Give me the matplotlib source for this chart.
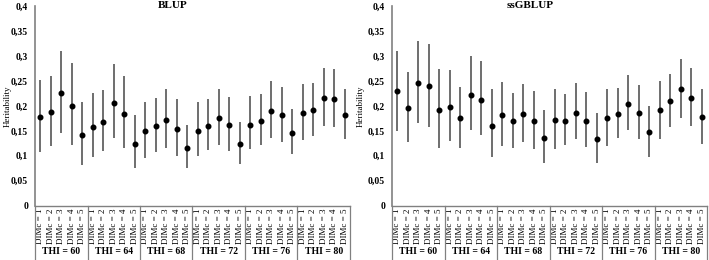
import matplotlib
matplotlib.use('Agg')
import matplotlib.pyplot as plt
import numpy as np

plt.rcParams['font.family'] = ['Liberation Serif', 'DejaVu Serif']

thi_groups = ['THI = 60', 'THI = 64', 'THI = 68', 'THI = 72', 'THI = 76', 'THI = 80']
dim_labels = ['DIMc = 1', 'DIMc = 2', 'DIMc = 3', 'DIMc = 4', 'DIMc = 5']

# BLUP: estimate, upper and lower limit
blup_h2 = [0.177, 0.187, 0.225, 0.199, 0.141,
           0.157, 0.167, 0.206, 0.183, 0.123,
           0.149, 0.159, 0.171, 0.153, 0.115,
           0.150, 0.159, 0.175, 0.161, 0.123,
           0.162, 0.170, 0.189, 0.181, 0.146,
           0.185, 0.191, 0.215, 0.213, 0.182]
blup_hi = [0.251, 0.259, 0.310, 0.285, 0.207,
           0.225, 0.232, 0.283, 0.259, 0.181,
           0.208, 0.215, 0.233, 0.213, 0.162,
           0.207, 0.213, 0.233, 0.217, 0.167,
           0.220, 0.223, 0.249, 0.238, 0.193,
           0.243, 0.245, 0.276, 0.273, 0.234]
blup_lo = [0.107, 0.119, 0.145, 0.122, 0.082,
           0.097, 0.110, 0.135, 0.115, 0.075,
           0.095, 0.108, 0.115, 0.100, 0.075,
           0.099, 0.111, 0.121, 0.109, 0.084,
           0.113, 0.121, 0.136, 0.128, 0.104,
           0.131, 0.139, 0.159, 0.157, 0.134]

# ssGBLUP
ss_h2 = [0.229, 0.196, 0.245, 0.239, 0.191,
         0.197, 0.175, 0.222, 0.212, 0.160,
         0.182, 0.169, 0.183, 0.169, 0.136,
         0.172, 0.170, 0.186, 0.170, 0.133,
         0.175, 0.184, 0.203, 0.185, 0.148,
         0.191, 0.209, 0.233, 0.216, 0.178]
ss_hi = [0.310, 0.268, 0.329, 0.324, 0.273,
         0.271, 0.238, 0.299, 0.289, 0.233,
         0.247, 0.225, 0.243, 0.230, 0.191,
         0.233, 0.223, 0.245, 0.227, 0.185,
         0.233, 0.236, 0.261, 0.242, 0.200,
         0.250, 0.263, 0.293, 0.275, 0.234]
ss_lo = [0.150, 0.128, 0.165, 0.157, 0.115,
         0.129, 0.115, 0.151, 0.141, 0.097,
         0.120, 0.116, 0.127, 0.113, 0.085,
         0.114, 0.121, 0.134, 0.118, 0.085,
         0.119, 0.135, 0.151, 0.133, 0.098,
         0.133, 0.157, 0.176, 0.159, 0.123]

W, H = 709, 260
fig = plt.figure(figsize=(W / 100, H / 100), dpi=100)

ax_bottom = (H - 205.7) / H
ax_height = (205.7 - 6) / H
ax_w = 315 / W


def panel(left, title, h2, hi, lo, ylab_x):
    ax = fig.add_axes([left / W, ax_bottom, ax_w, ax_height])
    x = np.arange(len(h2))
    h2 = np.array(h2)
    yerr = [h2 - np.array(lo), np.array(hi) - h2]
    ax.errorbar(x, h2, yerr=yerr, fmt='o', color='black', ms=3.3,
                ecolor='#555555', elinewidth=1.2, capsize=0)
    ax.set_xlim(-0.5, len(h2) - 0.5)
    ax.set_ylim(0, 0.4)
    yt = np.arange(0, 0.401, 0.05)
    ax.set_yticks(yt)
    ax.set_yticklabels([('%g' % round(v, 2)).replace('.', ',') for v in yt],
                       fontsize=7, fontweight='bold')
    ax.tick_params(axis='y', length=0, pad=5)
    ax.set_xticks(x)
    ax.set_xticklabels(dim_labels * len(thi_groups), rotation=90, fontsize=6.5)
    ax.tick_params(axis='x', length=0, pad=2)
    for s in ['top', 'right']:
        ax.spines[s].set_visible(False)
    ax.spines['left'].set_color('#808080')
    ax.spines['bottom'].set_color('#808080')
    ax.spines['left'].set_linewidth(1.2)
    ax.spines['bottom'].set_linewidth(1.0)
    ax.set_ylabel('Heritability', fontsize=6.5, va='center')
    ax.yaxis.set_label_coords(ylab_x, 0.5)

    trans = ax.get_xaxis_transform()
    yb = -(H - 205.7) / (205.7 - 6)
    for g in range(len(thi_groups) + 1):
        ax.plot([g * 5 - 0.5] * 2, [0, yb], transform=trans, color='#808080',
                lw=0.9, clip_on=False)
    for g, lab in enumerate(thi_groups):
        ax.text(g * 5 + 2, -(252 - 205.7) / (205.7 - 6), lab, transform=trans,
                ha='center', va='center', fontsize=7, fontweight='bold')
    ax.text(0.438, 1.0, title, transform=ax.transAxes, ha='center', va='center',
            fontsize=8, fontweight='bold')
    return ax


panel(35, 'BLUP', blup_h2, blup_hi, blup_lo, -0.088)
panel(392, 'ssGBLUP', ss_h2, ss_hi, ss_lo, -0.1)

fig.savefig('out.png', dpi=100)
